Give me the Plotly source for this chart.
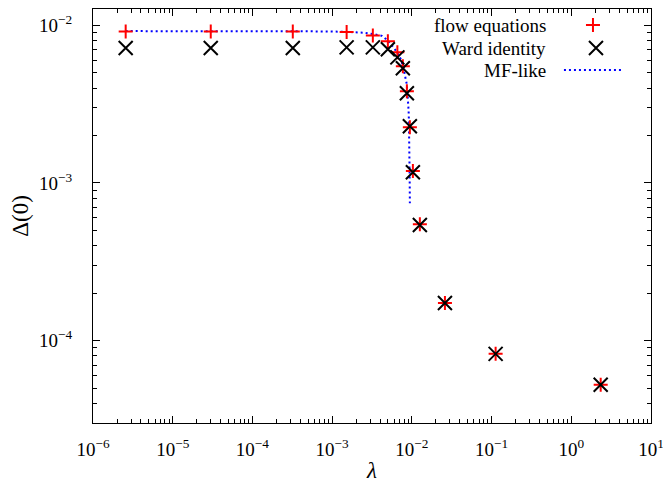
import plotly.graph_objects as go

# ---------------- data ----------------
flow_lambda = [2.57e-6, 3.00e-5, 3.21e-4, 1.52e-3, 3.24e-3, 5.00e-3, 6.58e-3,
               7.71e-3, 8.66e-3, 9.44e-3, 1.03e-2, 1.26e-2, 2.60e-2, 0.1124, 2.338]
flow_delta = [9.16e-3, 9.16e-3, 9.16e-3, 9.07e-3, 8.64e-3, 7.92e-3, 6.75e-3,
              5.50e-3, 3.82e-3, 2.26e-3, 1.19e-3, 5.48e-4, 1.733e-4, 8.24e-5, 5.24e-5]

ward_lambda = [2.57e-6, 3.00e-5, 3.21e-4, 1.52e-3, 3.24e-3, 5.00e-3, 6.58e-3,
               7.71e-3, 8.66e-3, 9.44e-3, 1.03e-2, 1.26e-2, 2.60e-2, 0.1124, 2.338]
ward_delta = [7.18e-3, 7.18e-3, 7.18e-3, 7.25e-3, 7.25e-3, 7.05e-3, 6.27e-3,
              5.34e-3, 3.71e-3, 2.29e-3, 1.17e-3, 5.41e-4, 1.733e-4, 8.24e-5, 5.24e-5]

mf_lambda = [2.57e-6, 2.18e-5, 2.21e-4, 9.35e-4, 1.667e-3, 2.57e-3, 3.435e-3,
             4.21e-3, 4.72e-3, 5.61e-3, 6.49e-3, 7.28e-3, 7.78e-3, 8.17e-3,
             8.59e-3, 8.79e-3, 9.00e-3, 9.10e-3, 9.18e-3, 9.25e-3, 9.33e-3,
             9.38e-3, 9.44e-3]
mf_delta = [9.20e-3, 9.20e-3, 9.19e-3, 9.16e-3, 9.08e-3, 8.97e-3, 8.77e-3,
            8.58e-3, 8.21e-3, 7.47e-3, 6.77e-3, 6.09e-3, 5.44e-3, 4.82e-3,
            4.29e-3, 3.76e-3, 3.35e-3, 2.89e-3, 2.50e-3, 2.16e-3, 1.61e-3,
            1.12e-3, 7.45e-4]

x_tick_exponents = [-6, -5, -4, -3, -2, -1, 0, 1]
y_tick_exponents = [-4, -3, -2]

series_names = ["flow equations", "Ward identity", "MF-like"]
x_title = "<i>λ</i>"
y_title = "Δ(0)"

# ---------------- layout / style ----------------
W, H = 663, 489
L, R, T, B = 93.3, 651.0, 9.0, 422.7      # plot frame in pixels
FONT = "Liberation Serif"
RED, BLACK, BLUE = "#ff0000", "#000000", "#0000ff"


def px_to_paper(px, py):
    return (px - L) / (R - L), (B - py) / (B - T)


def pow_labels(exps):
    vals = [10.0 ** e for e in exps]
    txt = ["10<sup>%s</sup>" % (str(e).replace("-", "−")) for e in exps]
    return vals, txt


def minor_vals(exps):
    out = []
    for e in exps[:-1]:
        out += [d * 10.0 ** e for d in range(2, 10)]
    return out


fig = go.Figure()

fig.add_trace(go.Scatter(x=mf_lambda, y=mf_delta, mode="lines", name=series_names[2],
                         line=dict(color=BLUE, width=2, dash="2px,3px"),
                         showlegend=False))
fig.add_trace(go.Scatter(x=flow_lambda, y=flow_delta, mode="markers", name=series_names[0],
                         marker=dict(symbol="cross-thin", size=10,
                                     line=dict(color=RED, width=2)),
                         showlegend=False))
fig.add_trace(go.Scatter(x=ward_lambda, y=ward_delta, mode="markers", name=series_names[1],
                         marker=dict(symbol="x-thin", size=14,
                                     line=dict(color=BLACK, width=2)),
                         showlegend=False))

# gnuplot-style key: text right-aligned, sample to its right
key_text_right = 548
key_rows = [25, 48, 70]
for name, py in zip(series_names, key_rows):
    xp, yp = px_to_paper(key_text_right, py)
    fig.add_annotation(x=xp, y=yp, xref="paper", yref="paper", text=name,
                       showarrow=False, xanchor="right", yanchor="middle",
                       font=dict(family=FONT, size=19, color=BLACK))

kx1, ky1 = px_to_paper(593, key_rows[0])
kx2, ky2 = px_to_paper(596, key_rows[1])
lx0, ly = px_to_paper(564, key_rows[2])
lx1, _ = px_to_paper(622, key_rows[2])
fig.add_trace(go.Scatter(x=[kx1], y=[ky1], xaxis="x2", yaxis="y2", mode="markers",
                         marker=dict(symbol="cross-thin", size=10, line=dict(color=RED, width=2)),
                         showlegend=False, hoverinfo="skip"))
fig.add_trace(go.Scatter(x=[kx2], y=[ky2], xaxis="x2", yaxis="y2", mode="markers",
                         marker=dict(symbol="x-thin", size=14, line=dict(color=BLACK, width=2)),
                         showlegend=False, hoverinfo="skip"))
fig.add_trace(go.Scatter(x=[lx0, lx1], y=[ly, ly], xaxis="x2", yaxis="y2", mode="lines",
                         line=dict(color=BLUE, width=2, dash="2px,3px"),
                         showlegend=False, hoverinfo="skip"))

# axis titles as annotations (exact placement)
tx, ty = px_to_paper(372, 470)
fig.add_annotation(x=tx, y=ty, xref="paper", yref="paper", text=x_title, showarrow=False,
                   xanchor="center", yanchor="middle",
                   font=dict(family=FONT, size=23, color=BLACK))
tx, ty = px_to_paper(20, 216)
fig.add_annotation(x=tx, y=ty, xref="paper", yref="paper", text=y_title, showarrow=False,
                   xanchor="center", yanchor="middle", textangle=-90,
                   font=dict(family=FONT, size=23, color=BLACK))

xv, xt = pow_labels(x_tick_exponents)
yv, yt = pow_labels(y_tick_exponents)

axis_common = dict(
    type="log", showline=True, linecolor=BLACK, linewidth=1.2, mirror="allticks",
    ticks="inside", ticklen=7, tickwidth=1, tickcolor=BLACK, automargin=False,
    showgrid=False, zeroline=False, ticklabeloverflow="allow",
    tickfont=dict(family=FONT, size=19, color=BLACK),
)

fig.update_layout(
    width=W, height=H,
    margin=dict(l=L, r=W - R, t=T, b=H - B, autoexpand=False),
    paper_bgcolor="white", plot_bgcolor="white",
    font=dict(family=FONT, color=BLACK),
    showlegend=False,
    xaxis=dict(**axis_common, range=[-6, 1], tickvals=xv, ticktext=xt,
               ticklabelstandoff=9,
               minor=dict(ticks="inside", ticklen=4, tickwidth=1, tickcolor=BLACK,
                          showgrid=False, tickvals=minor_vals(x_tick_exponents))),
    yaxis=dict(**axis_common, range=[-4.5229, -1.896], tickvals=yv, ticktext=yt,
               ticklabelstandoff=16,
               minor=dict(ticks="inside", ticklen=4, tickwidth=1, tickcolor=BLACK,
                          showgrid=False, tickvals=minor_vals([-5, -4, -3, -2, -1]))),
    xaxis2=dict(overlaying="x", range=[0, 1], visible=False, fixedrange=True),
    yaxis2=dict(overlaying="y", range=[0, 1], visible=False, fixedrange=True),
)

fig.write_html("out.html", config={"displayModeBar": False},
               post_script="document.body.style.margin='0';")
